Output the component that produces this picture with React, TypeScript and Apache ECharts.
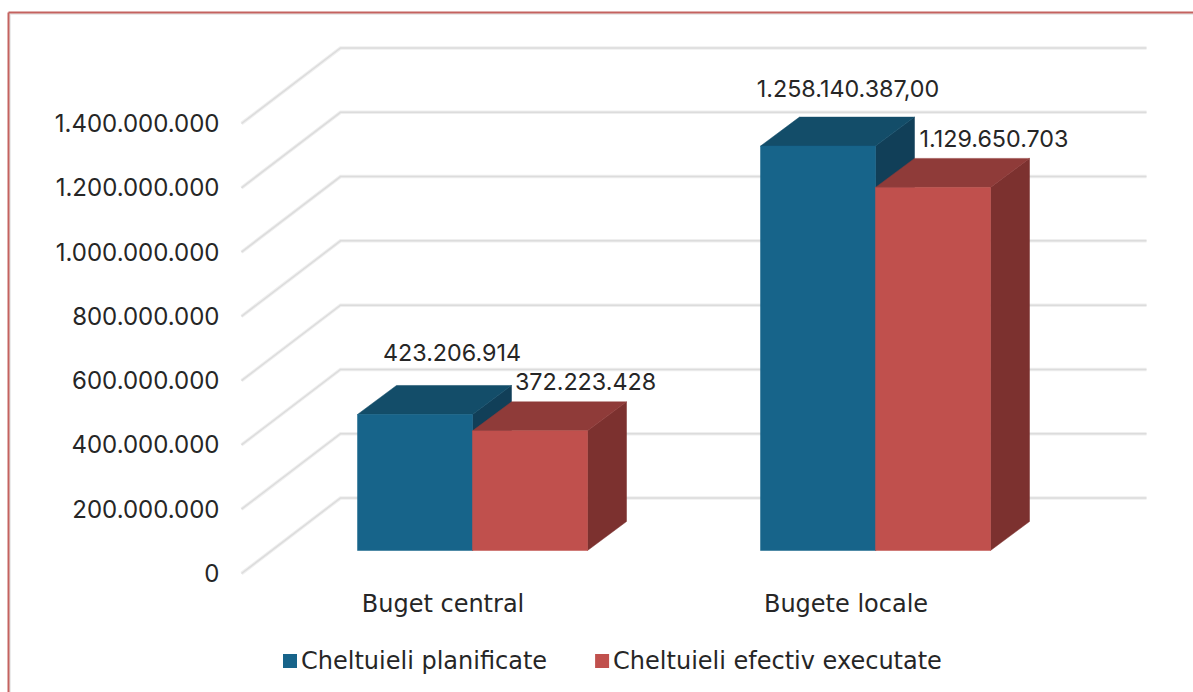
import React, { useEffect, useRef } from "react";
import * as echarts from "echarts";

const categories = ["Buget central", "Bugete locale"];
const planned = [423206914, 1258140387];
const executed = [372223428, 1129650703];
const plannedLabels = ["423.206.914", "1.258.140.387,00"];
const executedLabels = ["372.223.428", "1.129.650.703"];
const gridTicks = [0, 200000000, 400000000, 600000000, 800000000, 1000000000, 1200000000, 1400000000];

const FONT = "Inter";
const WIDE_FONT = "DejaVu Sans";
const TEXT = "#262626";

const BAR_W = 115;
const PLANE_DX = 29.5;
const PLANE_DY = -23;
const DEPTH_DX = 39;
const DEPTH_DY = -29;
const WALL_DX = 99;
const WALL_DY = -75.5;

function fmt(v: number) {
  return String(v).replace(/\B(?=(\d{3})+(?!\d))/g, ".");
}

function barRender(
  side: number,
  labels: string[],
  colors: { front: string; top: string; right: string },
  labelOffset: number[][]
) {
  return (params: any, api: any) => {
    const i = api.value(0);
    const top = api.coord([i, api.value(1)]);
    const base = api.coord([i, 0]);
    const x0 = top[0] + PLANE_DX + (side < 0 ? -BAR_W : 0);
    const x1 = x0 + BAR_W;
    const yT = top[1] + PLANE_DY;
    const yB = base[1] + PLANE_DY;
    const idx = params.dataIndex;
    const poly = (points: number[][], fill: string) => ({
      type: "polygon",
      shape: { points },
      style: { fill, stroke: fill, lineWidth: 0.5 },
    });
    return {
      type: "group",
      children: [
        poly(
          [
            [x1, yT],
            [x1 + DEPTH_DX, yT + DEPTH_DY],
            [x1 + DEPTH_DX, yB + DEPTH_DY],
            [x1, yB],
          ],
          colors.right
        ),
        poly(
          [
            [x0, yT],
            [x0 + DEPTH_DX, yT + DEPTH_DY],
            [x1 + DEPTH_DX, yT + DEPTH_DY],
            [x1, yT],
          ],
          colors.top
        ),
        poly(
          [
            [x0, yT],
            [x1, yT],
            [x1, yB],
            [x0, yB],
          ],
          colors.front
        ),
        {
          type: "text",
          x: (x0 + x1) / 2 + labelOffset[idx][0],
          y: yT + labelOffset[idx][1],
          style: {
            text: labels[idx],
            fill: TEXT,
            font: `23.3px ${FONT}`,
            align: "center",
            verticalAlign: "middle",
          },
        },
      ],
    };
  };
}

function wallRender(params: any, api: any) {
  const y = api.coord([0, api.value(1)])[1];
  const cs = params.coordSys;
  const xL = cs.x;
  const xB = xL + WALL_DX;
  const yB = y + WALL_DY;
  const xR = xL + cs.width + WALL_DX;
  const points = [
    [xL, y],
    [xB, yB],
    [xR, yB],
  ];
  return {
    type: "group",
    children: [
      { type: "polyline", shape: { points }, style: { fill: "none", stroke: "#efefef", lineWidth: 3.5 } },
      { type: "polyline", shape: { points }, style: { fill: "none", stroke: "#dcdcdc", lineWidth: 1.5 } },
    ],
  };
}

export default function App() {
  const ref = useRef<HTMLDivElement>(null);
  useEffect(() => {
    const chart = echarts.init(ref.current!, undefined, { renderer: "svg" });
    chart.setOption({
      animation: false,
      backgroundColor: "#ffffff",
      textStyle: { fontFamily: FONT },
      grid: { left: 241.5, top: 123.5, width: 806, height: 450 },
      graphic: [
        { type: "line", shape: { x1: 10, y1: 14, x2: 1193, y2: 14 }, style: { stroke: "#e4e4e4", lineWidth: 1.5 } },
        { type: "line", shape: { x1: 10, y1: 14, x2: 10, y2: 692 }, style: { stroke: "#e4e4e4", lineWidth: 1.5 } },
        { type: "line", shape: { x1: 8.5, y1: 12.5, x2: 1193, y2: 12.5 }, style: { stroke: "#c4625f", lineWidth: 2 } },
        { type: "line", shape: { x1: 8.5, y1: 12.5, x2: 8.5, y2: 692 }, style: { stroke: "#c4625f", lineWidth: 2 } },
      ],
      legend: {
        data: ["Cheltuieli planificate", "Cheltuieli efectiv executate"],
        left: 278,
        top: 644,
        itemWidth: 14,
        itemHeight: 14,
        itemGap: 48,
        icon: "rect",
        textStyle: { color: TEXT, fontFamily: WIDE_FONT, fontSize: 24, padding: [0, 0, 0, -1] },
      },
      xAxis: {
        type: "category",
        data: categories,
        axisLine: { show: false },
        axisTick: { show: false },
        axisLabel: { color: TEXT, fontFamily: WIDE_FONT, fontSize: 24, margin: 18 },
      },
      yAxis: {
        type: "value",
        min: 0,
        max: 1400000000,
        interval: 200000000,
        axisLine: { show: false },
        axisTick: { show: false },
        splitLine: { show: false },
        axisLabel: {
          color: TEXT,
          fontFamily: FONT,
          fontSize: 24,
          margin: 22,
          padding: [3, 0, 0, 0],
          formatter: (v: number) => fmt(v),
        },
      },
      series: [
        {
          type: "custom",
          name: "walls",
          silent: true,
          renderItem: wallRender,
          data: gridTicks.map((v) => [0, v]),
          encode: { x: 0, y: 1 },
          z: 1,
        },
        {
          type: "custom",
          name: "Cheltuieli planificate",
          itemStyle: { color: "#17648a" },
          renderItem: barRender(-1, plannedLabels, { front: "#17648a", top: "#134d69", right: "#113f58" }, [
            [37, -62],
            [30, -58],
          ]),
          data: planned.map((v, i) => [i, v]),
          encode: { x: 0, y: 1 },
          z: 2,
        },
        {
          type: "custom",
          name: "Cheltuieli efectiv executate",
          itemStyle: { color: "#c0504d" },
          renderItem: barRender(1, executedLabels, { front: "#c0504d", top: "#8f3b39", right: "#7c312f" }, [
            [55.5, -49],
            [61, -49],
          ]),
          data: executed.map((v, i) => [i, v]),
          encode: { x: 0, y: 1 },
          z: 3,
        },
      ],
    });
    return () => chart.dispose();
  }, []);
  return <div ref={ref} style={{ position: "absolute", left: 0, top: 0, width: 1193, height: 692 }} />;
}
